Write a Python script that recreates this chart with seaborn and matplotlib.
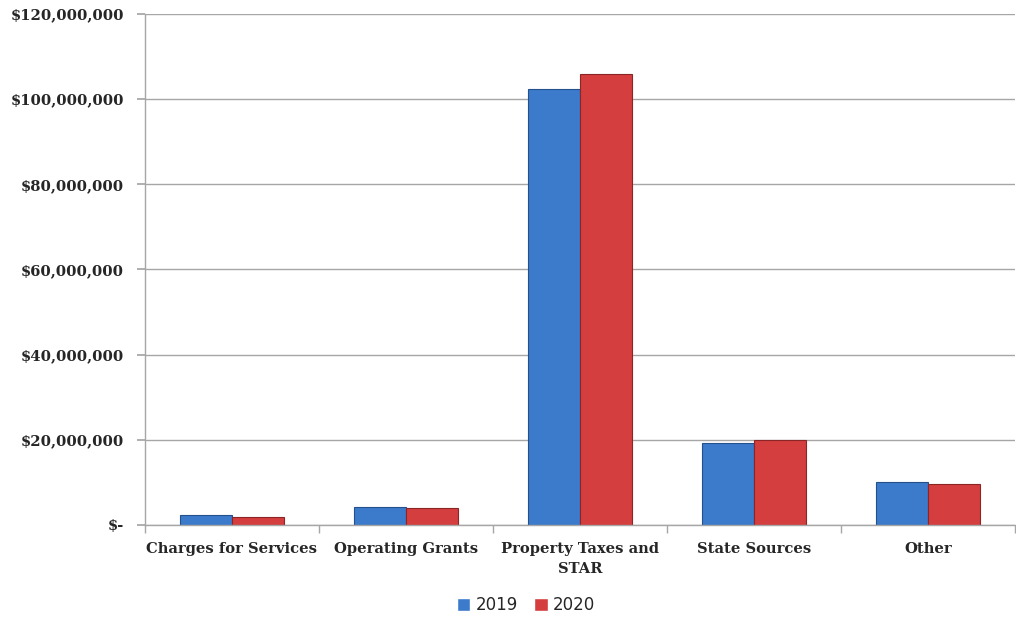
import matplotlib
matplotlib.use("Agg")
import matplotlib.pyplot as plt
import seaborn as sns
import pandas as pd
import numpy as np
from matplotlib.ticker import FixedLocator

categories = ["Charges for Services", "Operating Grants", "Property Taxes and\nSTAR", "State Sources", "Other"]
values_2019 = [2_350_000, 4_300_000, 102_500_000, 19_300_000, 10_200_000]
values_2020 = [1_800_000, 3_900_000, 105_800_000, 19_950_000, 9_700_000]
years = ["2019", "2020"]
y_ticks = [0, 20_000_000, 40_000_000, 60_000_000, 80_000_000, 100_000_000, 120_000_000]

df = pd.DataFrame({
    "Category": categories * 2,
    "Year": [years[0]] * len(categories) + [years[1]] * len(categories),
    "Value": values_2019 + values_2020,
})

sns.set_theme(style="white")
plt.rcParams['font.family'] = ['DejaVu Sans']

fig = plt.figure(figsize=(10.16, 6.22), dpi=100)
ax = fig.add_axes([0.1427, 0.156, 0.856, 0.8215])

palette = {"2019": "#3C7ACB", "2020": "#D43E3E"}
sns.barplot(data=df, x="Category", y="Value", hue="Year", palette=palette,
            width=0.6, gap=0, ax=ax, saturation=1, legend=True)

edge = {"2019": "#24518C", "2020": "#8C2626"}
for cont, yr in zip(ax.containers, years):
    for p in cont:
        p.set_edgecolor(edge[yr])
        p.set_linewidth(0.8)

ax.set_ylim(0, 120_000_000)
ax.set_xlim(-0.5, len(categories) - 0.5)

def fmt(v):
    if v == 0:
        return "$-"
    return "${:,.0f}".format(v)

ax.grid(axis="y", color="#A6A6A6", linewidth=1.0)
ax.set_axisbelow(True)
for s in ["top", "right"]:
    ax.spines[s].set_visible(False)
for s in ["left", "bottom"]:
    ax.spines[s].set_visible(True)
    ax.spines[s].set_color("#A6A6A6")
    ax.spines[s].set_linewidth(1.0)

ax.set_xlabel("")
ax.set_ylabel("")

serif = {"family": "DejaVu Serif", "weight": "bold", "size": 10.6}
ax.set_yticks(y_ticks)
ax.set_yticklabels([fmt(v) for v in y_ticks], fontdict=serif)
ax.set_xticks(range(len(categories)))
ax.set_xticklabels(categories, fontdict=serif, linespacing=1.55, va="top")

ax.tick_params(axis="y", which="major", left=True, length=6, color="#A6A6A6", pad=9)
ax.tick_params(axis="x", which="major", bottom=False, pad=6)
ax.xaxis.set_minor_locator(FixedLocator(np.arange(-0.5, len(categories), 1.0)))
ax.tick_params(axis="x", which="minor", bottom=True, length=6, color="#A6A6A6")

leg = ax.legend(loc="upper center", bbox_to_anchor=(0.438, -0.11), ncol=2, frameon=False,
                handlelength=0.8, handleheight=0.8, handletextpad=0.3, columnspacing=1.0,
                prop={"family": "DejaVu Sans", "size": 12})

fig.savefig("out.png", dpi=100)
